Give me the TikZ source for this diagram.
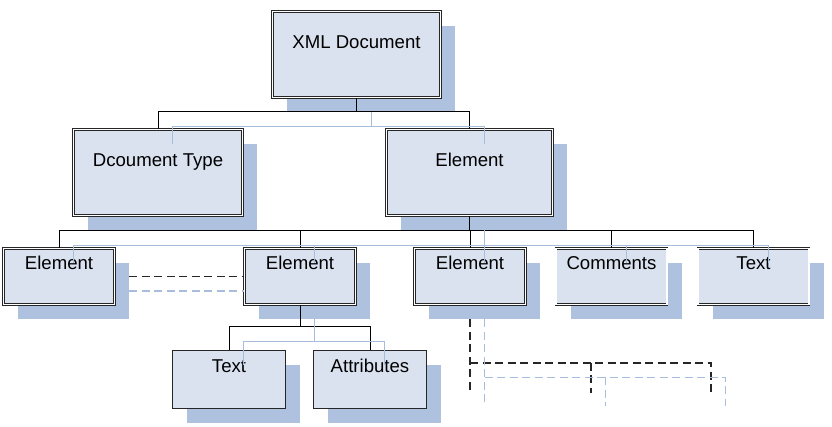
\documentclass[tikz,border=0pt]{standalone}
\usepackage{fontspec}
\setmainfont{Liberation Sans}
\usetikzlibrary{calc,shadows}
\definecolor{boxfill}{HTML}{DAE2F0}
\definecolor{shadowc}{HTML}{AEC2E0}
\definecolor{lblue}{HTML}{A8BDDC}
\definecolor{edge}{HTML}{262626}
\tikzset{
  dbox/.style={draw=edge, line width=0.75pt, double=white, double distance=1.3pt,
    fill=boxfill, inner sep=0pt,
    drop shadow={shadow xshift=14.5pt, shadow yshift=-14.5pt, fill=shadowc, opacity=1}},
  sbox/.style={draw=edge, line width=1pt, fill=boxfill, inner sep=0pt,
    drop shadow={shadow xshift=14.5pt, shadow yshift=-14.5pt, fill=shadowc, opacity=1}},
  bigbox/.style={dbox, minimum height=86pt},
  smallbox/.style={dbox, minimum width=111pt, minimum height=56pt},
  leafbox/.style={sbox, minimum width=113pt, minimum height=58pt},
  lbl/.style={anchor=base, font=\fontsize{18.6}{22}\selectfont, inner sep=0pt},
  conn/.style={draw=black, line width=0.9pt},
  bconn/.style={draw=lblue, line width=0.9pt},
  dconn/.style={draw=edge, line width=1.3pt, dash pattern=on 8pt off 4.5pt},
  bdconn/.style={draw=lblue, line width=1.2pt, dash pattern=on 8pt off 4.5pt},
}
\begin{document}
\begin{tikzpicture}[x=1pt,y=-1pt]
\useasboundingbox (0,0) rectangle (832,426);
\def\s{14.5}
% boxes
\node[bigbox, minimum width=168pt] (xml) at (356.5,54.5) {};
\node[bigbox, minimum width=169pt] (dt) at (158,172.5) {};
\node[bigbox, minimum width=166pt] (el1) at (469.5,172.5) {};
\node[smallbox] (e21) at (59,276.5) {};
\node[smallbox] (e22) at (300,276.5) {};
\node[smallbox] (e23) at (470,276.5) {};
\node[smallbox] (com) at (611.5,276.5) {};
\node[smallbox] (tx2) at (753.5,276.5) {};
\node[leafbox] (t3) at (229,379.5) {};
\node[leafbox] (at3) at (370,379.5) {};
% labels
\node[lbl] (xmlt) at ($(xml.north)+(0,37)$) {XML Document};
\node[lbl] (dtt) at ($(dt.north)+(0,37.3)$) {Dcoument Type};
\node[lbl] (el1t) at ($(el1.north)+(0,37.3)$) {Element};
\node[lbl] (e21t) at ($(e21.north)+(0,21.7)$) {Element};
\node[lbl] (e22t) at ($(e22.north)+(0,21.7)$) {Element};
\node[lbl] (e23t) at ($(e23.north)+(0,21.7)$) {Element};
\node[lbl] (comt) at ($(com.north)+(0,21.7)$) {Comments};
\node[lbl] (tx2t) at ($(tx2.north)+(0,21.7)$) {Text};
\node[lbl] (t3t) at ($(t3.north)+(0,22.8)$) {Text};
\node[lbl] (at3t) at ($(at3.north)+(0,22.8)$) {Attributes};
% level 1 connectors
\draw[conn] (xml.south) -- ++(0,14) coordinate (b0);
\draw[conn] (b0) -| (dt.north);
\draw[conn] (b0) -| (el1.north);
\draw[bconn] ($(xml.south)+(\s,\s)$) -- ++(0,14) coordinate (c0);
\draw[bconn] (c0) -| ($(dt.north)+(\s,\s)$);
\draw[bconn] (c0) -| ($(el1.north)+(\s,\s)$);
% level 2 connectors
\draw[conn] (el1.south) -- ++(0,15) coordinate (b1);
\foreach \n in {e21,e22,e23,com,tx2} \draw[conn] (b1) -| (\n.north);
\draw[bconn] ($(el1.south)+(\s,\s)$) -- ++(0,15) coordinate (c1);
\foreach \n in {e21,e22,e23,com,tx2} \draw[bconn] (c1) -| ($(\n.north)+(\s,\s)$);
% level 3 connectors
\draw[conn] (e22.south) -- ++(0,22) coordinate (b2);
\draw[conn] (b2) -| (t3.north);
\draw[conn] (b2) -| (at3.north);
\draw[bconn] ($(e22.south)+(\s,\s)$) -- ++(0,22) coordinate (c2);
\draw[bconn] (c2) -| ($(t3.north)+(\s,\s)$);
\draw[bconn] (c2) -| ($(at3.north)+(\s,\s)$);
% dashed between elements
\draw[dconn] ($(e21.east)+(\s,0)$) -- (e22.west);
\draw[bdconn] ($(e21.east)+(\s,\s)$) -- ($(e22.west)+(0,\s)$);
% dashed stubs below element 3
\coordinate (d0) at ($(e23.south)+(0,\s)$);
\coordinate (d1) at ($(e23.south)+(0,58)$);
\coordinate (d2) at ($(d1)+(121,0)$);
\coordinate (d3) at ($(d1)+(241,0)$);
\draw[dconn] (d0) -- ($(d1)+(0,29)$);
\draw[dconn] (d1) -- (d3) -- ++(0,30);
\draw[dconn] (d2) -- ++(0,30);
\draw[bdconn] ($(d0)+(\s,0)$) -- ($(d1)+(\s,\s+29)$);
\draw[bdconn] ($(d1)+(\s,\s)$) -- ($(d3)+(\s,\s)$) -- ++(0,29);
\draw[bdconn] ($(d2)+(\s,\s)$) -- ++(0,29);
\end{tikzpicture}
\end{document}
